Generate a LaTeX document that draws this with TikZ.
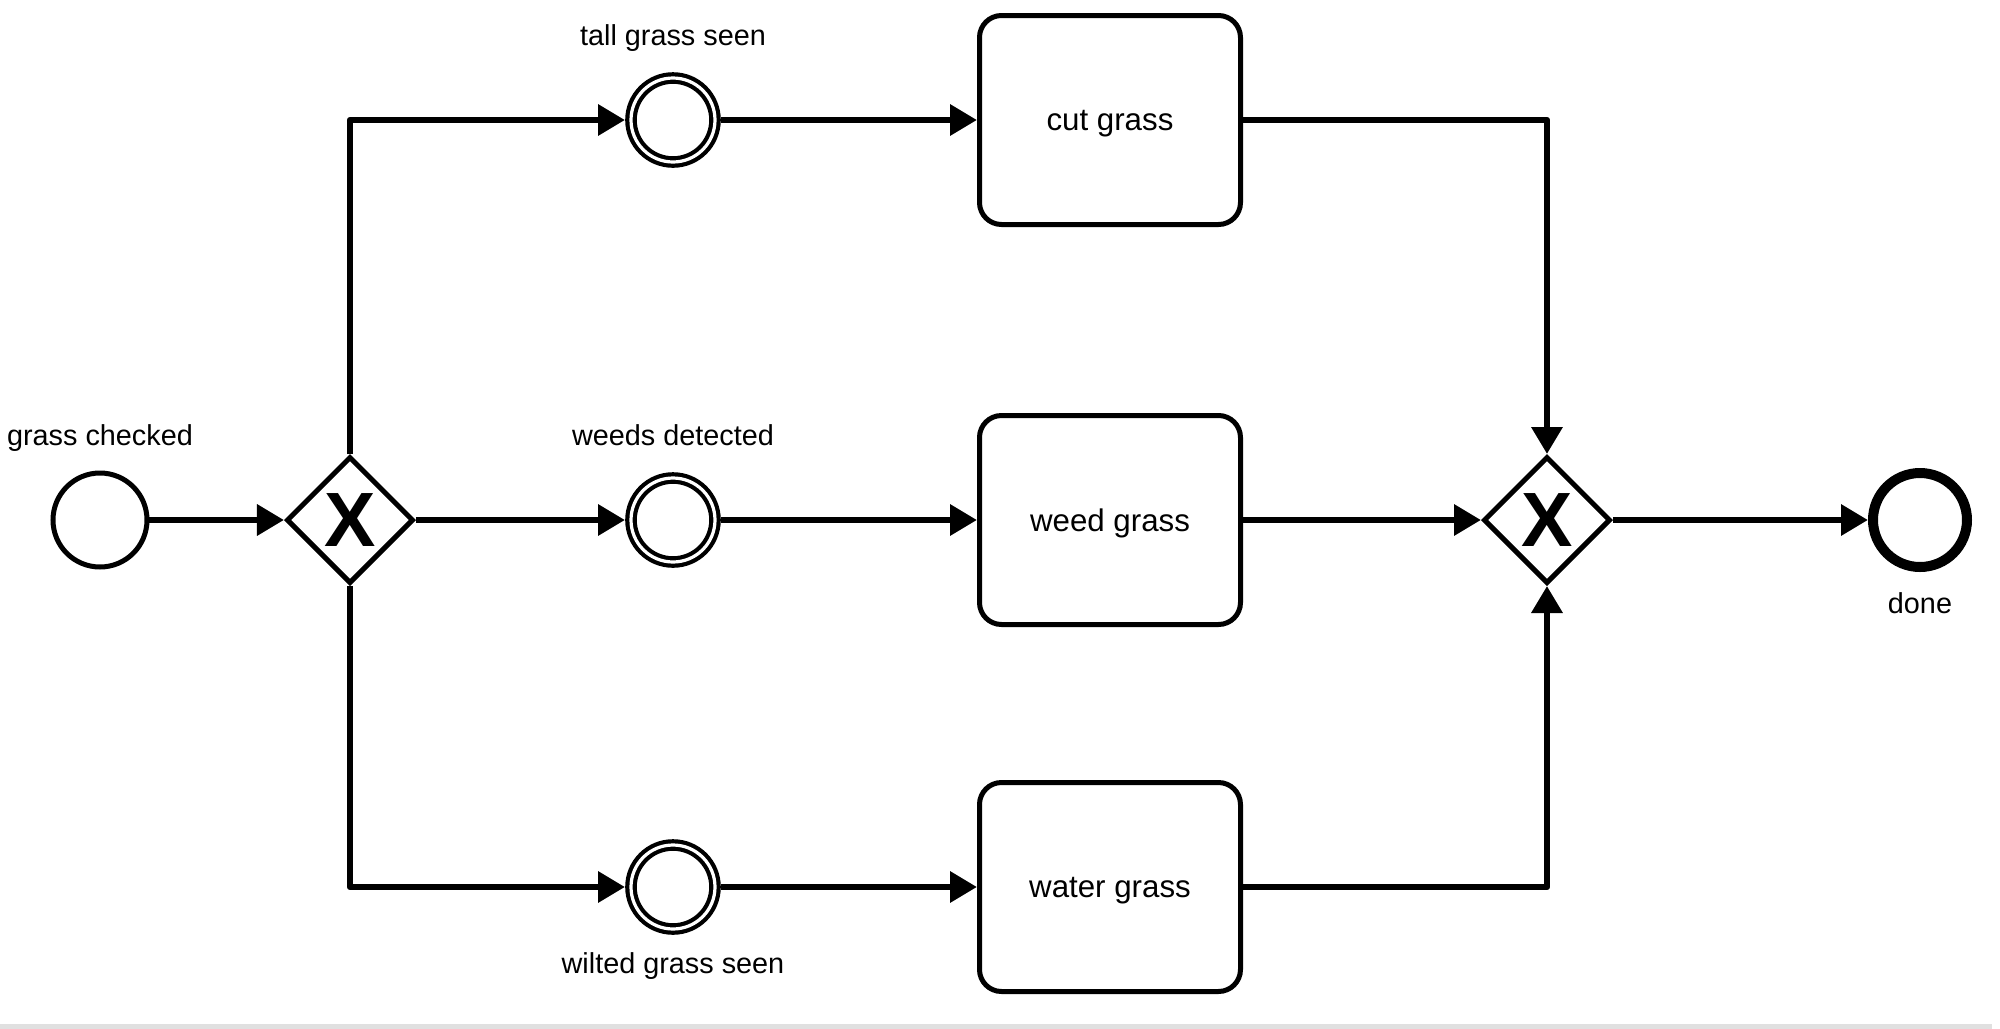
\documentclass[tikz,border=0pt]{standalone}
\usepackage{fontspec}
\setmainfont{Liberation Sans}
\usetikzlibrary{
  arrows.meta,
  shapes.geometric,
  positioning}

\tikzset{
  flow/.style={line width=0.65mm, line join=round, -{Triangle[length=2.7mm,width=3mm]}},
  startev/.style={circle, draw, line width=0.5mm, minimum size=9.4mm, inner sep=0pt},
  midev/.style={circle, draw, double, line width=0.42mm, double distance=0.32mm, minimum size=8.4mm, inner sep=0pt, outer sep=0.6mm},
  endev/.style={circle, draw, line width=1mm, minimum size=9.4mm, inner sep=0pt},
  xgate/.style={diamond, draw, aspect=1, line width=0.5mm, minimum size=12.7mm, inner sep=0pt, font=\fontsize{21.9}{22}\selectfont\bfseries},
  task/.style={rectangle, draw, rounded corners=2.2mm, line width=0.5mm, minimum width=26.1mm, minimum height=20.9mm, text depth=0pt, font=\fontsize{8.9}{10}\selectfont},
  evlabel/.style={anchor=base, font=\fontsize{8.2}{10}\selectfont}
}

\begin{document}
\begin{tikzpicture}[x=0.1mm,y=-0.1mm]
            \useasboundingbox (0,0) rectangle (2000,1029);
            \fill[black!12] (0,1024) rectangle (1992,1029);
            % events and gateways
            \node[startev] (start) at (100,520) {};
            \node[xgate] (split) at (350,520) {X};
            \node[midev] (tall) at (673,120) {};
            \node[midev] (weeds) at (673,520) {};
            \node[midev] (wilted) at (673,887) {};
            \node[task] (cut) at (1110,120) {cut grass};
            \node[task] (weed) at (1110,520) {weed grass};
            \node[task] (water) at (1110,887) {water grass};
            \node[xgate] (join) at (1547,520) {X};
            \node[endev] (done) at (1920,520) {};
            % labels
            \node[evlabel] (lstart) at (100,445) {grass checked};
            \node[evlabel] (ltall) at (673,45) {tall grass seen};
            \node[evlabel] (lweeds) at (673,445) {weeds detected};
            \node[evlabel] (lwilted) at (673,973) {wilted grass seen};
            \node[evlabel] (ldone) at (1920,613) {done};
            % flows
            \draw[flow] (start) -- (split);
            \draw[flow] (split.north) |- (tall.west);
            \draw[flow] (split.east) -- (weeds.west);
            \draw[flow] (split.south) |- (wilted.west);
            \draw[flow] (tall) -- (cut);
            \draw[flow] (weeds) -- (weed);
            \draw[flow] (wilted) -- (water);
            \draw[flow] (cut.east) -| (join.north);
            \draw[flow] (weed.east) -- (join.west);
            \draw[flow] (water.east) -| (join.south);
            \draw[flow] (join) -- (done);
        \end{tikzpicture}
\end{document}
